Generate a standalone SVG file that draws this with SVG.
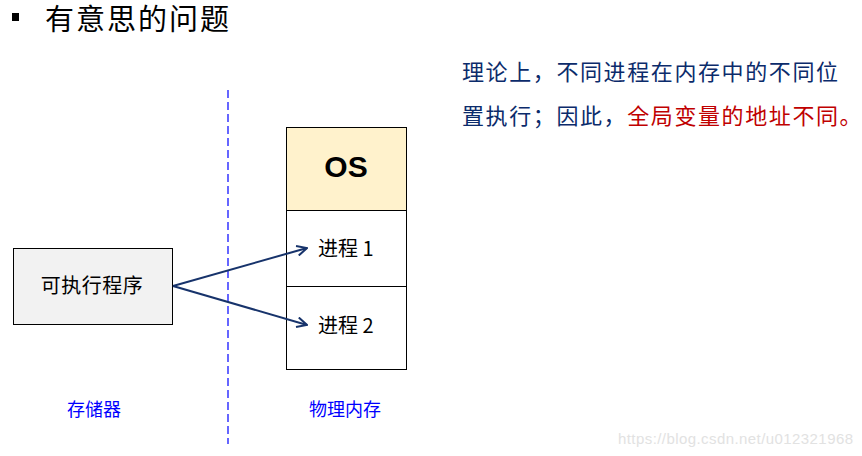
<svg xmlns="http://www.w3.org/2000/svg" width="862" height="456" viewBox="0 0 862 456">
<style>
.cjk{font-family:"Noto Sans CJK SC","Liberation Sans",sans-serif}
.box{stroke:#000;stroke-width:1}
.lbl{font-size:20px;fill:#000}
.cap{font-size:18px;fill:#0000ff}
.desc{font-size:22px;letter-spacing:1.6px;fill:#0b2b6b}
.red{fill:#c00000}
.conn{stroke:#17336b;stroke-width:2;fill:none}
</style>
<defs>
<marker id="ah" viewBox="0 0 12 12" refX="11" refY="6" markerWidth="12" markerHeight="12" markerUnits="userSpaceOnUse" orient="auto">
<path d="M1,1 L11,6 L1,11" fill="none" stroke="#17336b" stroke-width="2"/>
</marker>
</defs>
<rect width="862" height="456" fill="#fff"/>
<g id="title">
<rect x="12" y="13" width="7" height="8" fill="#000"/>
<text x="45" y="30" class="cjk" font-size="29" letter-spacing="2" fill="#000">有意思的问题</text>
</g>
<g id="description">
<text x="462" y="80" class="cjk desc">理论上，不同进程在内存中的不同位</text>
<text x="462" y="124" class="cjk desc">置执行；因此，<tspan class="red">全局变量的地址不同。</tspan></text>
</g>
<g id="divider">
<line x1="228" y1="90" x2="228" y2="444" stroke="#0000ff" stroke-width="1.2" stroke-dasharray="8,4"/>
</g>
<g id="exe">
<rect x="13.5" y="248.5" width="159" height="76" fill="#f2f2f2" class="box"/>
<text x="92" y="293" text-anchor="middle" class="cjk lbl" letter-spacing="0.5">可执行程序</text>
</g>
<g id="os">
<rect x="286.5" y="127.5" width="120" height="83" fill="#fff2cc" class="box"/>
<text x="346" y="177" text-anchor="middle" font-family="Liberation Sans,Arial,sans-serif" font-weight="bold" font-size="30" fill="#000">OS</text>
</g>
<g id="proc1">
<rect x="286.5" y="210.5" width="120" height="76" fill="#fff" class="box"/>
<text x="318" y="256" class="cjk lbl">进程 1</text>
</g>
<g id="proc2">
<rect x="286.5" y="286.5" width="120" height="83" fill="#fff" class="box"/>
<text x="318" y="333" class="cjk lbl">进程 2</text>
</g>
<g id="connectors">
<line x1="173" y1="286" x2="307" y2="248" class="conn" marker-end="url(#ah)"/>
<line x1="173" y1="286" x2="307" y2="325" class="conn" marker-end="url(#ah)"/>
</g>
<g id="captions">
<text x="67" y="416" class="cjk cap">存储器</text>
<text x="309" y="416" class="cjk cap">物理内存</text>
</g>
<text x="618" y="444" font-family="Liberation Sans,Arial,sans-serif" font-size="15" fill="#e2e2e2" textLength="235">https://blog.csdn.net/u012321968</text>
</svg>
